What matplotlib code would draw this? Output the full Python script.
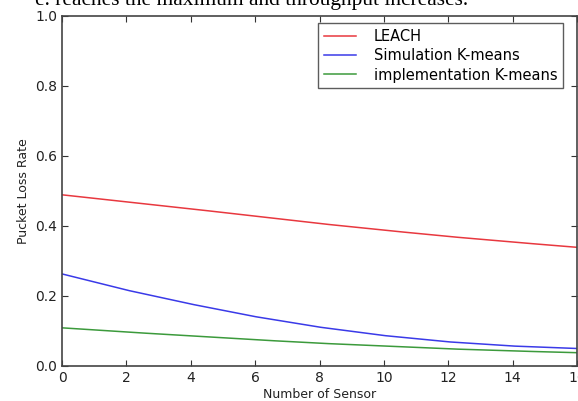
import matplotlib.pyplot as plt
import numpy as np

sensors = [0, 2, 4, 6, 8, 10, 12, 14, 16]
leach = [0.489, 0.469, 0.449, 0.428, 0.407, 0.388, 0.370, 0.354, 0.339]
sim_kmeans = [0.263, 0.217, 0.177, 0.141, 0.111, 0.087, 0.069, 0.057, 0.050]
impl_kmeans = [0.109, 0.097, 0.086, 0.075, 0.065, 0.057, 0.049, 0.043, 0.038]

fig = plt.figure(figsize=(5.78, 4.01), dpi=100)
ax = fig.add_axes([0.1073, 0.0873, 0.891, 0.873])

# smooth the curves a bit between the read points
xs = np.linspace(0, 16, 200)
ax.plot(xs, np.interp(xs, sensors, leach), color='#e8383f', lw=1.1, label='LEACH')
ax.plot(xs, np.interp(xs, sensors, sim_kmeans), color='#3a3ae8', lw=1.1, label='Simulation K-means')
ax.plot(xs, np.interp(xs, sensors, impl_kmeans), color='#3c9a3c', lw=1.1, label='implementation K-means')

ax.set_xlim(0, 16)
ax.set_ylim(0, 1.0)
ax.set_xticks(range(0, 17, 2))
ax.set_yticks([0.0, 0.2, 0.4, 0.6, 0.8, 1.0])
ax.set_yticklabels(['0.0', '0.2', '0.4', '0.6', '0.8', '1.0'])
ax.tick_params(direction='in', top=True, right=True, length=4, width=0.8,
               labelsize=10, colors='#333333', labelcolor='#222222')
for s in ax.spines.values():
    s.set_color('#444444')
    s.set_linewidth(1.2)

ax.set_xlabel('Number of Sensor', fontsize=9, color='#222222', labelpad=2)
ax.set_ylabel('Pucket Loss Rate', fontsize=9, color='#222222', labelpad=4)

leg = ax.legend(loc='upper right', bbox_to_anchor=(0.973, 0.98), borderaxespad=0,
                fancybox=False, fontsize=10.5, handlelength=2.2, handletextpad=1.2,
                borderpad=0.4, labelspacing=0.3)
leg.get_frame().set_edgecolor('#333333')
leg.get_frame().set_linewidth(1.0)

# caption from the page above the figure, cut at the top edge
fig.text(35 / 578, 1 - 5 / 401, 'e. reaches the maximum and throughput increases.',
         family='Liberation Serif', fontsize=15.4, va='baseline', ha='left')

fig.savefig('out.png', dpi=100)
